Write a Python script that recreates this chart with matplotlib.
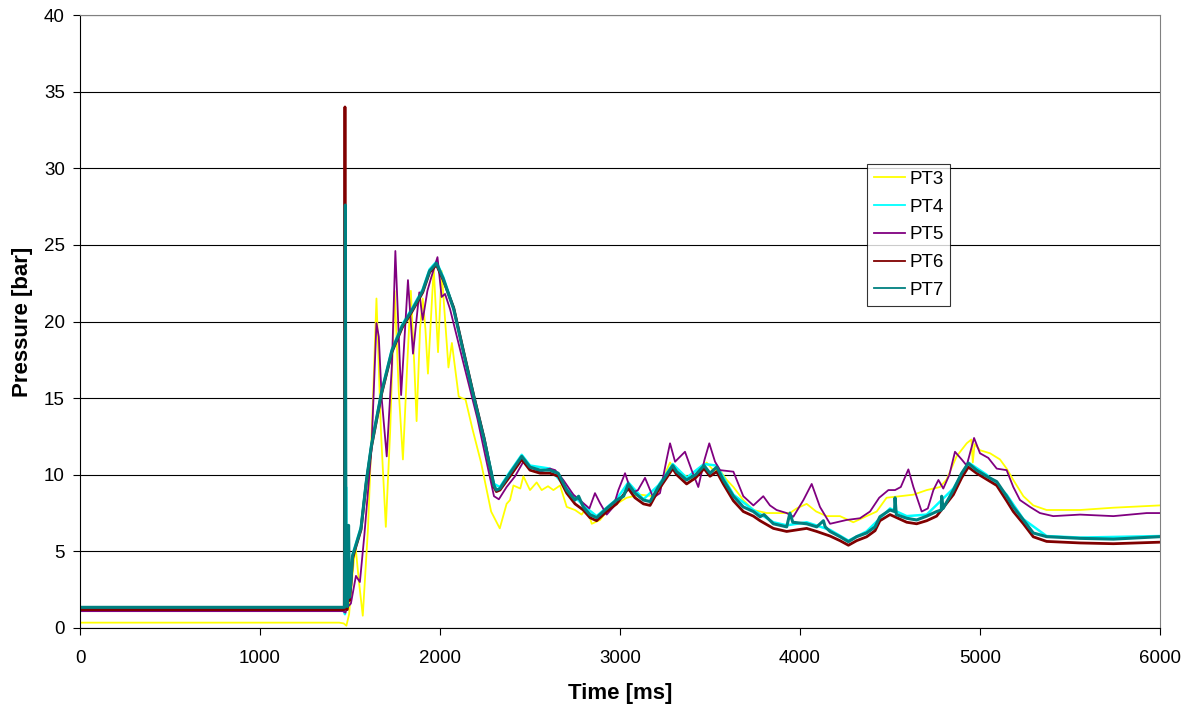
import matplotlib
matplotlib.use("Agg")
import matplotlib.pyplot as plt

plt.rcParams['font.family'] = ['Liberation Sans', 'DejaVu Sans']

# ---------------- data ----------------
pt3_t = [0, 1440, 1465, 1480, 1495, 1510, 1530, 1550, 1571, 1600, 1628, 1647, 1672, 1699,
         1723, 1748, 1771, 1794, 1818, 1838, 1857, 1870, 1889, 1904, 1919, 1933, 1965, 1989,
         2009, 2047, 2066, 2104, 2142, 2180, 2228, 2284, 2332, 2370, 2389, 2408, 2446, 2463,
         2500, 2537, 2565, 2600, 2630, 2667, 2704, 2750, 2787, 2815, 2843, 2889, 2926, 2981,
         3037, 3111, 3185, 3222, 3259, 3278, 3315, 3370, 3407, 3444, 3481, 3518, 3560, 3593,
         3630, 3685, 3741, 3815, 3889, 3944, 3981, 4037, 4090, 4148, 4222, 4296, 4370, 4426,
         4481, 4556, 4630, 4704, 4778, 4815, 4870, 4926, 4952, 4960, 4970, 5000, 5056, 5111,
         5148, 5185, 5241, 5296, 5370, 5556, 5741, 6000]
pt3_v = [0.35, 0.35, 0.3, 0.15, 0.9, 3.0, 5.4, 3.0, 0.8, 6.5, 15.0, 21.5, 12.8, 6.6,
         12.8, 22.0, 15.4, 11.0, 17.2, 22.0, 17.2, 13.5, 19.5, 21.5, 19.5, 16.6, 23.5, 18.0,
         23.3, 17.0, 18.6, 15.1, 14.9, 13.0, 10.8, 7.6, 6.5, 8.1, 8.35, 9.3, 9.1, 9.9,
         9.0, 9.5, 9.0, 9.25, 9.0, 9.3, 7.9, 7.7, 7.4, 7.9, 6.8, 7.05, 7.6, 8.1,
         8.5, 8.7, 8.6, 9.0, 10.3, 10.8, 10.1, 9.9, 9.66, 10.3, 10.8, 10.3, 10.2, 9.66,
         9.2, 8.35, 7.7, 7.5, 7.5, 7.5, 7.8, 8.1, 7.6, 7.3, 7.3, 6.9, 7.3, 7.6,
         8.5, 8.6, 8.7, 9.0, 9.2, 9.7, 11.2, 12.05, 12.3, 10.8, 12.0, 11.6, 11.4, 11.0,
         10.4, 9.66, 8.6, 8.0, 7.7, 7.7, 7.85, 8.0]

pt5_t = [0, 1460, 1475, 1482, 1505, 1533, 1555, 1580, 1619, 1647, 1660, 1676, 1704, 1733,
         1752, 1784, 1822, 1850, 1885, 1904, 1930, 1952, 1986, 2009, 2028, 2056, 2132, 2208,
         2265, 2300, 2327, 2370, 2417, 2463, 2500, 2556, 2611, 2640, 2685, 2741, 2796, 2830,
         2861, 2889, 2926, 2963, 2991, 3028, 3065, 3100, 3139, 3185, 3222, 3259, 3278, 3306,
         3361, 3398, 3435, 3470, 3496, 3528, 3556, 3630, 3685, 3741, 3796, 3833, 3870, 3926,
         3963, 4019, 4065, 4111, 4167, 4259, 4333, 4389, 4440, 4491, 4528, 4560, 4602, 4630,
         4676, 4710, 4741, 4769, 4796, 4830, 4861, 4898, 4926, 4967, 5000, 5046, 5093, 5148,
         5185, 5222, 5278, 5333, 5407, 5556, 5741, 5926, 6000]
pt5_v = [1.1, 1.1, 1.0, 1.3, 1.6, 3.4, 3.0, 6.1, 11.6, 19.9, 19.0, 15.0, 11.2, 17.2,
         24.6, 15.2, 22.7, 17.9, 21.9, 20.1, 22.0, 22.9, 24.2, 21.6, 21.8, 20.8, 17.2, 13.65,
         10.5, 8.6, 8.4, 9.2, 9.9, 10.85, 10.5, 10.2, 10.4, 10.3, 9.66, 8.7, 8.15, 7.8,
         8.8, 8.15, 7.4, 7.9, 9.0, 10.1, 8.8, 9.0, 9.8, 8.5, 8.8, 11.0, 12.05, 10.85,
         11.5, 10.3, 9.2, 11.0, 12.05, 10.85, 10.3, 10.2, 8.6, 8.0, 8.6, 8.0, 7.7, 7.5,
         7.26, 8.35, 9.4, 7.9, 6.8, 7.05, 7.16, 7.6, 8.5, 9.0, 9.0, 9.2, 10.35, 9.2,
         7.6, 7.8, 9.0, 9.66, 9.1, 10.0, 11.5, 11.0, 10.6, 12.4, 11.4, 11.1, 10.4, 10.3,
         9.2, 8.35, 7.9, 7.5, 7.3, 7.4, 7.3, 7.5, 7.5]

pt7_t = [0, 1470, 1474, 1478, 1485, 1492, 1497, 1505, 1514, 1530, 1561, 1590, 1619, 1676,
         1733, 1790, 1847, 1904, 1942, 1980, 2018, 2076, 2132, 2189, 2245, 2300, 2313, 2333,
         2389, 2454, 2500, 2556, 2611, 2657, 2704, 2750, 2770, 2796, 2833, 2870, 2926, 2981,
         3020, 3046, 3083, 3130, 3167, 3213, 3259, 3293, 3315, 3370, 3420, 3467, 3500, 3537,
         3574, 3630, 3685, 3741, 3778, 3800, 3852, 3926, 3944, 3960, 4037, 4093, 4130, 4140,
         4167, 4222, 4269, 4315, 4370, 4417, 4444, 4500, 4525, 4528, 4535, 4593, 4648, 4704,
         4759, 4785, 4787, 4795, 4852, 4898, 4935, 4981, 5037, 5093, 5148, 5185, 5241, 5296,
         5370, 5556, 5741, 6000]
pt7_v = [1.35, 1.35, 27.6, 1.8, 1.4, 6.7, 2.0, 3.0, 4.7, 5.3, 6.5, 9.5, 11.9, 15.4,
         18.1, 19.7, 20.8, 22.0, 23.3, 23.8, 22.8, 20.8, 17.9, 15.0, 12.3, 9.3, 9.0, 9.1,
         10.1, 11.2, 10.5, 10.3, 10.3, 10.1, 9.0, 8.35, 8.6, 7.9, 7.4, 7.2, 7.8, 8.35,
         8.6, 9.4, 8.8, 8.35, 8.25, 9.2, 10.0, 10.6, 10.2, 9.66, 10.0, 10.6, 10.1, 10.5,
         9.66, 8.6, 7.9, 7.6, 7.26, 7.4, 6.8, 6.6, 7.5, 6.9, 6.8, 6.6, 7.0, 6.6,
         6.3, 5.96, 5.63, 5.96, 6.2, 6.6, 7.26, 7.7, 7.6, 8.5, 7.4, 7.16, 7.05, 7.3,
         7.6, 7.7, 8.6, 7.8, 9.0, 10.1, 10.75, 10.3, 9.9, 9.55, 8.6, 7.9, 7.05, 6.2,
         5.96, 5.85, 5.8, 5.96]

pt6_t = [0, 1468, 1472, 1476, 1485, 1492, 1497, 1505, 1514, 1530, 1561, 1590, 1619, 1676,
         1733, 1790, 1847, 1904, 1942, 1980, 2018, 2076, 2132, 2189, 2245, 2300, 2313, 2333,
         2389, 2454, 2500, 2556, 2611, 2657, 2704, 2750, 2796, 2833, 2870, 2926, 2981,
         3046, 3083, 3130, 3167, 3213, 3259, 3293, 3315, 3370, 3420, 3467, 3500, 3537,
         3574, 3630, 3685, 3741, 3778, 3852, 3926, 4037, 4093, 4167, 4222, 4269, 4315,
         4370, 4417, 4444, 4500, 4593, 4648, 4704, 4759, 4852, 4898, 4935, 4981, 5037,
         5093, 5148, 5185, 5241, 5296, 5370, 5556, 5741, 6000]
pt6_v = [1.2, 1.2, 34.0, 1.3, 1.2, 2.5, 1.8, 2.8, 4.5, 5.2, 6.4, 9.4, 11.8, 15.3,
         18.0, 19.6, 20.7, 21.9, 23.2, 23.7, 22.7, 20.9, 18.0, 15.1, 12.4, 9.2, 8.9, 9.0,
         9.9, 11.0, 10.3, 10.1, 10.1, 9.9, 8.8, 8.1, 7.7, 7.2, 7.0, 7.6, 8.1,
         9.1, 8.5, 8.1, 8.0, 9.0, 9.8, 10.4, 10.0, 9.4, 9.8, 10.4, 9.9, 10.2,
         9.4, 8.3, 7.6, 7.3, 7.0, 6.5, 6.3, 6.5, 6.3, 6.0, 5.7, 5.4, 5.7,
         5.95, 6.35, 7.0, 7.4, 6.9, 6.8, 7.0, 7.3, 8.7, 9.8, 10.5, 10.1, 9.7,
         9.3, 8.3, 7.6, 6.8, 5.95, 5.65, 5.55, 5.5, 5.6]

pt4_t = [0, 1468, 1472, 1478, 1484, 1492, 1497, 1505, 1514, 1530, 1561, 1590, 1619, 1676,
         1733, 1790, 1847, 1904, 1942, 1980, 2018, 2076, 2132, 2189, 2245, 2300, 2333,
         2389, 2454, 2500, 2611, 2704, 2796, 2870, 2981, 3046, 3130, 3213, 3293, 3370,
         3467, 3537, 3630, 3741, 3852, 3926, 4037, 4167, 4269, 4370, 4500, 4593, 4704,
         4852, 4935, 5037, 5148, 5241, 5370, 5556, 6000]
pt4_v = [1.3, 1.3, 0.9, 9.2, 1.6, 5.5, 2.2, 3.1, 4.8, 5.4, 6.6, 9.6, 12.0, 15.5,
         18.2, 19.8, 20.9, 22.1, 23.4, 23.9, 22.9, 20.9, 18.0, 15.1, 12.4, 9.4, 9.2,
         10.2, 11.3, 10.6, 10.4, 9.1, 8.0, 7.3, 8.4, 9.5, 8.4, 9.3, 10.7, 9.8,
         10.7, 10.6, 8.7, 7.7, 6.9, 6.7, 6.9, 6.4, 5.7, 6.3, 7.8, 7.3, 7.4,
         9.1, 10.8, 10.0, 8.7, 7.1, 6.0, 5.9, 6.0]

series = [
    ("PT3", pt3_t, pt3_v, "#FFFF00", 1.3),
    ("PT4", pt4_t, pt4_v, "#00FFFF", 1.8),
    ("PT5", pt5_t, pt5_v, "#800080", 1.3),
    ("PT6", pt6_t, pt6_v, "#800000", 2.0),
    ("PT7", pt7_t, pt7_v, "#008080", 2.2),
]

x_ticks = [0, 1000, 2000, 3000, 4000, 5000, 6000]
y_ticks = [0, 5, 10, 15, 20, 25, 30, 35, 40]

# ---------------- figure ----------------
fig = plt.figure(figsize=(11.92, 7.11), dpi=100)
ax = fig.add_axes([80 / 1192, 83 / 711, 1080 / 1192, 613 / 711])

for name, t, v, c, lw in series:
    ax.plot(t, v, color=c, lw=lw, label=name, solid_joinstyle='round')

ax.set_xlim(0, 6000)
ax.set_ylim(0, 40)
ax.set_xticks(x_ticks)
ax.set_yticks(y_ticks)
ax.yaxis.grid(True, color='black', lw=0.8)
ax.set_axisbelow(True)
for s in ['top', 'right']:
    ax.spines[s].set_color('#808080')
for s in ['left', 'bottom']:
    ax.spines[s].set_color('black')
ax.tick_params(direction='out', length=5, labelsize=13.5, colors='black')
ax.tick_params(axis='x', pad=11)
ax.tick_params(axis='y', pad=6)

ax.set_xlabel('Time [ms]', fontsize=16, fontweight='bold', labelpad=11)
ax.set_ylabel('Pressure [bar]', fontsize=16, fontweight='bold', labelpad=8)

leg = ax.legend(loc='upper left', bbox_to_anchor=((867 - 80) / 1080, (628 - 164) / 613),
                borderaxespad=0, fontsize=13.5, frameon=True, fancybox=False,
                edgecolor='black', handlelength=1.65, labelspacing=0.57,
                borderpad=0.35, handletextpad=0.25)
leg.get_frame().set_linewidth(0.8)
for h in leg.get_lines():
    h.set_linewidth(1.3)

fig.savefig('out.png', dpi=100)
